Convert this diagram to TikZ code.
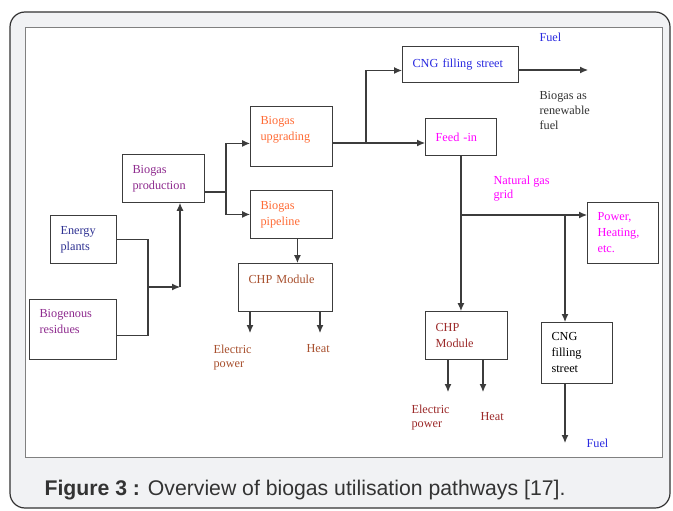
\documentclass[tikz,border=0pt]{standalone}
\usepackage{fontspec}
\setmainfont{Liberation Serif}
\newfontfamily\capfont{Liberation Sans}
\usetikzlibrary{arrows.meta}
\definecolor{framegray}{HTML}{F1F2F4}
\definecolor{linegray}{HTML}{3C3C3C}
\definecolor{navyc}{HTML}{2E3192}
\definecolor{purplec}{HTML}{8E2A8E}
\definecolor{orangec}{HTML}{FF6B35}
\definecolor{brownc}{HTML}{A8502E}
\definecolor{redc}{HTML}{9C2A2A}
\definecolor{bluec}{HTML}{2A2AE0}
\definecolor{magc}{HTML}{FF00FF}
\definecolor{capc}{HTML}{333333}
\begin{document}
\begin{tikzpicture}[x=1bp,y=-1bp,->,>={Latex[length=8bp,width=7bp]},
                line width=1.1bp,color=linegray,
                b node/.style={draw=linegray,rectangle,anchor=north west,align=left,inner xsep=10bp,inner ysep=0pt,font=\fontsize{12.3}{16}\selectfont},
                l node/.style={anchor=north west,align=left,inner sep=0pt,font=\fontsize{12.3}{15}\selectfont}]

    \useasboundingbox (0,0) rectangle (673,511);
    \draw[-,fill=framegray,draw=capc,line width=1.2bp,rounded corners=15bp] (10,12) rectangle (670,508);
    \draw[-,fill=white,draw=gray,line width=0.8bp] (25,27) rectangle (662,457);

    \node[b node,text width=46,minimum height=48,text=navyc] (ep) at (50,215) {Energy\\plants};
    \node[b node,text width=67,minimum height=60,text=purplec] (res) at (29,299) {Biogenous\\residues\\\mbox{}};
    \node[b node,text width=62,minimum height=48,text=purplec] (prod) at (122,154) {Biogas\\production};
    \node[b node,text width=62,minimum height=60,text=orangec] (upg) at (250,106) {Biogas\\upgrading\\\mbox{}};
    \node[b node,text width=62,minimum height=48,text=orangec] (pipe) at (250,190) {Biogas\\pipeline};
    \node[b node,text width=74,minimum height=48,text=brownc] (chpa) at (238,263) {CHP Module\\\mbox{}};
    \node[b node,text width=96,minimum height=36,text=bluec] (cnga) at (402,46) {CNG filling street};
    \node[b node,text width=51,minimum height=37,text=magc] (feed) at (425,118) {Feed -in};
    \node[b node,text width=51,minimum height=61,text=magc] (pow) at (587,202) {Power,\\Heating,\\etc.};
    \node[b node,text width=62,minimum height=48,text=redc] (chpb) at (425,311) {CHP\\Module};
    \node[b node,text width=51,minimum height=61,text=black] (cngb) at (541,322) {CNG\\filling\\street};

    \coordinate (j1) at (148,287);
    \coordinate (j2) at (180,287);
    \coordinate (j3) at (226,192);
    \coordinate (j4) at (366,143);
    \coordinate (j5) at (460,215);
    \coordinate (j6) at (565,215);
    \coordinate (fuela) at (588,70);
    \coordinate (fuelb) at (565,443);
    \coordinate (ela) at (250,333);
    \coordinate (hta) at (320,333);
    \coordinate (elb) at (448,392);
    \coordinate (htb) at (483,392);

    \draw[-] (ep.east) -| (j1) |- ([yshift=-6bp]res.east);
    \draw (j1) -- (j2);
    \draw (j2) -- (j2 |- prod.south);
    \draw[-] (j3 -| prod.east) -- (j3);
    \draw (j3) |- ([yshift=-7bp]upg.west);
    \draw (j3) |- (pipe.west);
    \draw ([xshift=6bp]pipe.south) -- ([xshift=6bp]pipe.south |- chpa.north);
    \draw (ela |- chpa.south) -- (ela);
    \draw (hta |- chpa.south) -- (hta);
    \draw[-] (j4 -| upg.east) -- (j4);
    \draw (j4) -- (j4 -| feed.west);
    \draw (j4) |- ([yshift=-6bp]cnga.west);
    \draw (fuela -| cnga.east) -- (fuela);
    \draw (feed.south) -- (feed.south |- chpb.north);
    \draw (j5) -- (j5 -| pow.west);
    \draw (j6) -- (j6 |- cngb.north);
    \draw (elb |- chpb.south) -- (elb);
    \draw (htb |- chpb.south) -- (htb);
    \draw (j6 |- cngb.south) -- (fuelb);

    \node[l node,text=bluec] (fta) at (539,32) {Fuel};
    \node[l node,text=capc] (renew) at (539,91) {Biogas as\\renewable\\fuel};
    \node[l node,text=magc] (grid) at (493,175) {Natural gas\\grid};
    \node[l node,text=brownc] (epa) at (213,344) {Electric\\power};
    \node[l node,text=brownc] (hea) at (306,344) {Heat};
    \node[l node,text=redc] (epb) at (411,404) {Electric\\power};
    \node[l node,text=redc] (heb) at (480,412) {Heat};
    \node[l node,text=bluec] (ftb) at (586,438) {Fuel};

    \node[anchor=base west,inner sep=0pt,text=capc,font=\capfont\fontsize{21.3}{25}\selectfont] (cap) at (44,495)
        {\textbf{Figure 3 :} Overview of biogas utilisation pathways [17].};

\end{tikzpicture}
\end{document}
